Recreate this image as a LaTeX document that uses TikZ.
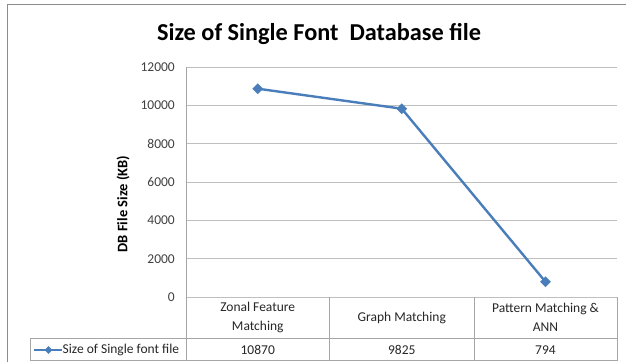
\documentclass[tikz,border=0pt]{standalone}
\usepackage{fontspec}
\setmainfont{Carlito}
\usetikzlibrary{shapes.geometric}
\definecolor{serieblue}{HTML}{4A7EBB}
\definecolor{gridgray}{HTML}{BFBFBF}
\definecolor{tablegray}{HTML}{A6A6A6}
\definecolor{framegray}{HTML}{8C8C8C}
\definecolor{ticktext}{HTML}{404040}
\definecolor{celltext}{HTML}{262626}
\begin{document}
\begin{tikzpicture}[x=1pt,y=-1pt,
  gridline/.style={draw=gridgray,line width=0.9pt},
  tabline/.style={draw=tablegray,line width=0.9pt},
  ticklabel/.style={anchor=east,inner sep=0pt,text=ticktext,font=\fontsize{13.5}{16}\selectfont},
  cell/.style={align=center,inner sep=0pt,text=celltext,font=\fontsize{13.5}{18.5}\selectfont},
  marker/.style={diamond,fill=serieblue,inner sep=0pt,minimum width=#1,minimum height=#1},
  series/.style={draw=serieblue,line width=2.4pt,line join=round}]
  \useasboundingbox (0,0) rectangle (626,362);
  % outer chart frame
  \draw[draw=framegray,line width=1.2pt] (7.3,362) -- (7.3,4.7) -- (626,4.7);
  % title
  \node[font=\bfseries\fontsize{24.3}{28}\selectfont,inner sep=0pt] (title) at (319,34.5) {Size of Single Font\ \ Database file};
  % value gridlines and tick labels
  \foreach \v/\y in {12000/67,10000/105.3,8000/143.7,6000/182,4000/220.3,2000/258.7,0/297}{
    \draw[gridline] (186,\y) -- (617,\y);
    \node[ticklabel] (t\v) at (175,\y) {\v};
  }
  \node[rotate=90,font=\bfseries\fontsize{14.5}{17}\selectfont,inner sep=0pt] (ytitle) at (123,204) {DB File Size (KB)};
  % data table
  \draw[tabline] (186,67) -- (186,360.7);
  \foreach \x in {329.5,474,617}{\draw[tabline] (\x,297) -- (\x,360.7);}
  \draw[tabline] (30,338.3) -- (617,338.3);
  \draw[tabline] (30,360.7) -- (617,360.7);
  \draw[tabline] (30,338.3) -- (30,360.7);
  \node[cell] (cat1) at (257.75,317.5) {Zonal Feature\\Matching};
  \node[cell] (cat2) at (401.75,317.5) {Graph Matching};
  \node[cell] (cat3) at (545.5,317.5) {Pattern Matching \&\\ANN};
  \node[cell] (val1) at (257.75,350) {10870};
  \node[cell] (val2) at (401.75,350) {9825};
  \node[cell] (val3) at (545.5,350) {794};
  % legend key
  \coordinate (ka) at (34,350);
  \coordinate (kb) at (62,350);
  \draw[series,line width=2.2pt] (ka) -- (kb);
  \node[marker=8pt] (km) at (48.5,350) {};
  \node[cell,anchor=west] (legend) at (62.5,350) {Size of Single font file};
  % data series
  \coordinate (c1) at (257.75,88.7);
  \coordinate (c2) at (401.75,108.7);
  \coordinate (c3) at (545.5,281.8);
  \draw[series] (c1) -- (c2) -- (c3);
  \node[marker=11pt] (p1) at (c1) {};
  \node[marker=11pt] (p2) at (c2) {};
  \node[marker=11pt] (p3) at (c3) {};
\end{tikzpicture}
\end{document}
